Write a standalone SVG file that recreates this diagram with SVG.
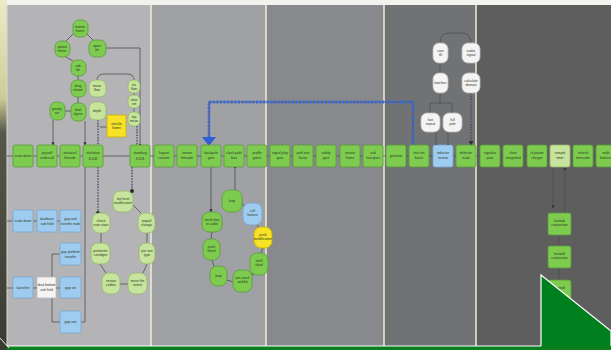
<svg xmlns="http://www.w3.org/2000/svg" width="611" height="350" viewBox="0 0 611 350">
<defs>
<linearGradient id="strip" x1="0" y1="0" x2="0" y2="1">
<stop offset="0" stop-color="#ecebc8"/><stop offset="0.28" stop-color="#cfcb98"/><stop offset="0.38" stop-color="#55574a"/><stop offset="1" stop-color="#3a3c32"/>
</linearGradient>
<marker id="ar" viewBox="0 0 6 6" refX="5" refY="3" markerWidth="4" markerHeight="4" orient="auto"><path d="M0,0 L6,3 L0,6 z" fill="#333"/></marker>
<marker id="dot" viewBox="0 0 6 6" refX="3" refY="3" markerWidth="3" markerHeight="3"><circle cx="3" cy="3" r="3" fill="#2a2a2a"/></marker>
<style>
.g rect{fill:#7dcb4f;stroke:#5c9a3a;stroke-width:0.8}
.lg rect{fill:#c6e49c;stroke:#98b46c;stroke-width:0.8}
.bl rect{fill:#9ecbf0;stroke:#7aa6cc;stroke-width:0.8}
.wh rect{fill:#f4f4f4;stroke:#bdbdbd;stroke-width:0.8}
.ye rect{fill:#f6e226;stroke:#c9b100;stroke-width:0.8}
text{font-family:"Liberation Sans",Arial,sans-serif;font-size:3.4px;fill:#2c3a22;text-anchor:middle}
.c path{fill:none;stroke:#4e4e4e;stroke-width:0.8}
.c path.d{stroke:#3e4c66;stroke-width:1.3;stroke-dasharray:1.6 1.2}
.c path.bu{stroke:#6a3e5c;stroke-width:1.2}
.c path.bd{stroke:#2f6fe0;stroke-width:2.8;stroke-dasharray:2 1.6}
.sep{stroke:#efeed2;stroke-width:1.5}
</style>
</defs>
<rect width="611" height="350" fill="#f2f2ee"/>
<rect x="0" y="0" width="7" height="350" fill="url(#strip)"/>
<rect x="7" y="5" width="144" height="341" fill="#b4b4b7"/>
<rect x="151" y="5" width="115" height="341" fill="#a0a1a4"/>
<rect x="266" y="5" width="118" height="341" fill="#88898c"/>
<rect x="384" y="5" width="92" height="341" fill="#717274"/>
<rect x="476" y="5" width="135" height="341" fill="#5e5e5f"/>
<path class="sep" d="M151,5V346M266,5V346M384,5V346M476,5V346"/>
<path d="M7,5V346" stroke="#d8d8d0" stroke-width="1"/>

<g id="connectors" class="c">
<path d="M7,156H611"/>
<path d="M74,33L66,41M86,33L93,40M66,57L73,61M78,76V80M78,97V103M65,111H71"/>
<path d="M97,80Q97,74 104,74H127Q134,74 134,80"/>
<path d="M134,93V95M134,108V112M107,127H100"/>
<path d="M106,48H140V145" marker-end="url(#dot)"/>
<path d="M53,120V145" marker-end="url(#ar)"/>
<path d="M85,121V145" marker-end="url(#ar)"/>
<path class="d" d="M98,120V145"/>
<path class="d" d="M137,126V145"/>
<path class="d" d="M98,167V213" marker-end="url(#dot)"/>
<path class="d" d="M132,167V191" marker-end="url(#dot)"/>
<path d="M7,221H81"/>
<path d="M7,288H13M33,288H37M56,288H60M52,254V322M52,254H60M52,322H60"/>
<path d="M85,167V322H81"/>
<path d="M133,205L141,213M101,233V243M147,233V243M100,264L106,273M147,264L143,273M120,284H128"/>
<path d="M211,167V212" marker-end="url(#ar)"/>
<path d="M235,190V167" marker-end="url(#dot)"/>
<path d="M242,203L245,207M257,225L259,228M263,248L261,253M254,275L249,273M233,282L227,280M214,266L212,260M211,239L212,232"/>
<path d="M440,43Q440,33 449,33H462Q471,33 471,43"/>
<path d="M440,63V73M440,93V103M430,103H452M430,103V113M452,103V113"/>
<path d="M436,132V145" marker-end="url(#dot)"/>
<path d="M448,132V145" marker-end="url(#dot)"/>
<path class="d" d="M471,93V145" marker-end="url(#ar)"/>
<path d="M553,167V208" marker-end="url(#ar)"/>
<path d="M565,212V167" marker-end="url(#ar)"/>
<path d="M559,235V246M559,268V280"/>
<path class="bu" d="M413,145V102H209V139"/>
<path class="bd" d="M413,145V102H209V139"/>
<polygon points="202,137 216,137 209,146" fill="#2f5fd0" stroke="none"/>
</g>

<g id="n_scale" class="g"><rect x="13" y="145" width="20" height="22" rx="2"/><text x="23" y="157">scale down</text></g>
<g id="n_paysell" class="g"><rect x="37" y="145" width="20" height="22" rx="2"/><text x="47" y="154">paysell</text><text x="47" y="159">undercall</text></g>
<g id="n_attr" class="g"><rect x="60" y="145" width="20" height="22" rx="2"/><text x="70" y="154">attraacel</text><text x="70" y="159">forcode</text></g>
<g id="n_duck" class="g"><rect x="83" y="145" width="20" height="22" rx="2"/><text x="93" y="154">duckduo</text><text x="93" y="160">6.208</text></g>
<g id="n_stand" class="g"><rect x="130" y="145" width="20" height="22" rx="2"/><text x="140" y="154">standurg</text><text x="140" y="160">8.003</text></g>
<g id="n_m6" class="g"><rect x="154" y="145" width="20" height="22" rx="2"/><text x="164" y="154">hayset</text><text x="164" y="159">counter</text></g>
<g id="n_m7" class="g"><rect x="177" y="145" width="20" height="22" rx="2"/><text x="187" y="154">sensor</text><text x="187" y="159">hmcode</text></g>
<g id="n_m8" class="g"><rect x="201" y="145" width="20" height="22" rx="2"/><text x="211" y="154">backpole</text><text x="211" y="159">gate</text></g>
<g id="n_m9" class="g"><rect x="224" y="145" width="20" height="22" rx="2"/><text x="234" y="154">clock path</text><text x="234" y="159">bias</text></g>
<g id="n_m10" class="g"><rect x="247" y="145" width="20" height="22" rx="2"/><text x="257" y="154">profile</text><text x="257" y="159">gates</text></g>
<g id="n_m11" class="g"><rect x="270" y="145" width="20" height="22" rx="2"/><text x="280" y="154">signal play</text><text x="280" y="159">gate</text></g>
<g id="n_m12" class="g"><rect x="293" y="145" width="20" height="22" rx="2"/><text x="303" y="154">path test</text><text x="303" y="159">factor</text></g>
<g id="n_m13" class="g"><rect x="316" y="145" width="20" height="22" rx="2"/><text x="326" y="154">safety</text><text x="326" y="159">gate</text></g>
<g id="n_m14" class="g"><rect x="340" y="145" width="20" height="22" rx="2"/><text x="350" y="154">sensor</text><text x="350" y="159">frame</text></g>
<g id="n_m15" class="g"><rect x="363" y="145" width="20" height="22" rx="2"/><text x="373" y="154">sud</text><text x="373" y="159">transport</text></g>
<g id="n_m16" class="g"><rect x="386" y="145" width="20" height="22" rx="2"/><text x="396" y="157">genotisk</text></g>
<g id="n_m17" class="g"><rect x="409" y="145" width="20" height="22" rx="2"/><text x="419" y="154">test net</text><text x="419" y="159">batch</text></g>
<g id="n_m18" class="bl"><rect x="433" y="145" width="20" height="22" rx="2"/><text x="443" y="154">inductor</text><text x="443" y="159">sensor</text></g>
<g id="n_m19" class="g"><rect x="456" y="145" width="20" height="22" rx="2"/><text x="466" y="154">detector</text><text x="466" y="159">scale</text></g>
<g id="n_m20" class="g"><rect x="480" y="145" width="20" height="22" rx="2"/><text x="490" y="154">signalus</text><text x="490" y="159">pass</text></g>
<g id="n_m21" class="g"><rect x="503" y="145" width="20" height="22" rx="2"/><text x="513" y="154">chart</text><text x="513" y="159">integrated</text></g>
<g id="n_m22" class="g"><rect x="527" y="145" width="20" height="22" rx="2"/><text x="537" y="154">ul patum</text><text x="537" y="159">charger</text></g>
<g id="n_m23" class="lg"><rect x="550" y="145" width="20" height="22" rx="2"/><text x="560" y="154">sample</text><text x="560" y="159">timer</text></g>
<g id="n_m24" class="g"><rect x="573" y="145" width="20" height="22" rx="2"/><text x="583" y="154">refresh</text><text x="583" y="159">timecode</text></g>
<g id="n_m25" class="g"><rect x="596" y="145" width="20" height="22" rx="2"/><text x="606" y="154">multi</text><text x="606" y="159">balance</text></g>

<g id="t_top" class="g"><rect x="73" y="20" width="15" height="17" rx="6"/><text x="80" y="28">motion</text><text x="80" y="32">frame</text></g>
<g id="t_left" class="g"><rect x="55" y="41" width="15" height="16" rx="6"/><text x="62" y="48">speed</text><text x="62" y="52">limiter</text></g>
<g id="t_right" class="g"><rect x="89" y="40" width="17" height="17" rx="6"/><text x="97" y="47">open</text><text x="97" y="51">bit</text></g>
<g id="t_bot" class="g"><rect x="71" y="60" width="15" height="16" rx="6"/><text x="78" y="67">sub</text><text x="78" y="71">bit</text></g>
<g id="t_b2" class="g"><rect x="71" y="80" width="15" height="17" rx="6"/><text x="78" y="87">drag</text><text x="78" y="91">slower</text></g>
<g id="t_b3" class="g"><rect x="71" y="103" width="15" height="18" rx="6"/><text x="78" y="111">dual</text><text x="78" y="115">layers</text></g>
<g id="t_grav" class="g"><rect x="50" y="102" width="15" height="18" rx="6"/><text x="57" y="110">gravity</text><text x="57" y="114">set</text></g>
<g id="t_lg1" class="lg"><rect x="89" y="80" width="17" height="17" rx="6"/><text x="97" y="87">mean</text><text x="97" y="91">flow</text></g>
<g id="t_lg2" class="lg"><rect x="89" y="102" width="17" height="18" rx="6"/><text x="97" y="112">depth</text></g>
<g id="t_s1" class="lg"><rect x="128" y="80" width="12" height="13" rx="5"/><text x="134" y="86">no</text><text x="134" y="90">flow</text></g>
<g id="t_s2" class="lg"><rect x="128" y="95" width="12" height="13" rx="5"/><text x="134" y="101">slow</text><text x="134" y="105">set</text></g>
<g id="t_s3" class="lg"><rect x="128" y="112" width="12" height="14" rx="5"/><text x="134" y="118">top</text><text x="134" y="122">mean</text></g>
<g id="t_yel" class="ye"><rect x="107" y="115" width="19" height="22" rx="1"/><text x="116.5" y="125">stackle</text><text x="116.5" y="129">frame</text></g>

<g id="b_1" class="bl"><rect x="13" y="210" width="20" height="22" rx="1"/><text x="23" y="222">scale down</text></g>
<g id="b_2" class="bl"><rect x="37" y="210" width="20" height="22" rx="1"/><text x="47" y="220">dualbase</text><text x="47" y="225">sub field</text></g>
<g id="b_3" class="bl"><rect x="60" y="210" width="21" height="22" rx="1"/><text x="70.5" y="220">gap and</text><text x="70.5" y="225">transfer node</text></g>
<g id="b_4" class="bl"><rect x="13" y="277" width="20" height="21" rx="1"/><text x="23" y="289">launcher</text></g>
<g id="b_5" class="wh"><rect x="37" y="277" width="19" height="21" rx="1"/><text x="46.5" y="286">dual bottom</text><text x="46.5" y="291">sub field</text></g>
<g id="b_6" class="bl"><rect x="60" y="243" width="21" height="22" rx="1"/><text x="70.5" y="253">gap platform</text><text x="70.5" y="258">transfer</text></g>
<g id="b_7" class="bl"><rect x="60" y="277" width="21" height="21" rx="1"/><text x="70.5" y="289">gap set</text></g>
<g id="b_8" class="bl"><rect x="60" y="311" width="21" height="22" rx="1"/><text x="70.5" y="323">gap unit</text></g>

<g id="r_1" class="lg"><rect x="113" y="191" width="20" height="21" rx="7"/><text x="123" y="200">top level</text><text x="123" y="204">modification</text></g>
<g id="r_2" class="lg"><rect x="92" y="213" width="18" height="20" rx="7"/><text x="101" y="222">check</text><text x="101" y="226">over state</text></g>
<g id="r_3" class="lg"><rect x="138" y="213" width="17" height="20" rx="7"/><text x="146.5" y="222">sequel</text><text x="146.5" y="226">change</text></g>
<g id="r_4" class="lg"><rect x="91" y="243" width="19" height="21" rx="7"/><text x="100.5" y="252">perimeter</text><text x="100.5" y="256">catridges</text></g>
<g id="r_5" class="lg"><rect x="139" y="243" width="16" height="21" rx="7"/><text x="147" y="252">per row</text><text x="147" y="256">type</text></g>
<g id="r_6" class="lg"><rect x="102" y="273" width="18" height="21" rx="7"/><text x="111" y="282">sensor</text><text x="111" y="286">cables</text></g>
<g id="r_7" class="lg"><rect x="128" y="273" width="19" height="21" rx="7"/><text x="137.5" y="282">move the</text><text x="137.5" y="286">switch</text></g>

<g id="m_1" class="g"><rect x="222" y="190" width="20" height="22" rx="7"/><text x="232" y="202">loop</text></g>
<g id="m_2" class="bl"><rect x="243" y="203" width="19" height="22" rx="7"/><text x="252.5" y="212">cell</text><text x="252.5" y="216">feature</text></g>
<g id="m_3" class="ye"><rect x="254" y="227" width="18" height="21" rx="7"/><text x="263" y="236">push</text><text x="263" y="240">modification</text></g>
<g id="m_4" class="g"><rect x="250" y="253" width="18" height="22" rx="7"/><text x="259" y="262">shell</text><text x="259" y="266">shed</text></g>
<g id="m_5" class="g"><rect x="233" y="270" width="19" height="22" rx="7"/><text x="242.5" y="279">join stack</text><text x="242.5" y="283">and bit</text></g>
<g id="m_6" class="g"><rect x="210" y="266" width="17" height="20" rx="7"/><text x="218.5" y="277">loop</text></g>
<g id="m_7" class="g"><rect x="203" y="239" width="17" height="21" rx="7"/><text x="211.5" y="248">push</text><text x="211.5" y="252">sheet</text></g>
<g id="m_8" class="g"><rect x="202" y="212" width="20" height="20" rx="7"/><text x="212" y="221">mesh feat</text><text x="212" y="225">in cable</text></g>

<g id="w_1" class="wh"><rect x="433" y="43" width="15" height="20" rx="6"/><text x="440.5" y="52">core</text><text x="440.5" y="56">fill</text></g>
<g id="w_2" class="wh"><rect x="462" y="43" width="18" height="20" rx="6"/><text x="471" y="52">audio</text><text x="471" y="56">signal</text></g>
<g id="w_3" class="wh"><rect x="433" y="73" width="15" height="20" rx="6"/><text x="440.5" y="84">batches</text></g>
<g id="w_4" class="wh"><rect x="462" y="73" width="18" height="20" rx="6"/><text x="471" y="82">calculate</text><text x="471" y="86">domain</text></g>
<g id="w_5" class="wh"><rect x="421" y="113" width="19" height="19" rx="6"/><text x="430.5" y="121">fast</text><text x="430.5" y="125">repeat</text></g>
<g id="w_6" class="wh"><rect x="443" y="113" width="19" height="19" rx="6"/><text x="452.5" y="121">full</text><text x="452.5" y="125">pole</text></g>

<g id="k_1" class="g"><rect x="548" y="213" width="23" height="22" rx="2"/><text x="559.5" y="222">kustodi</text><text x="559.5" y="226">conversion</text></g>
<g id="k_2" class="g"><rect x="548" y="246" width="23" height="22" rx="2"/><text x="559.5" y="255">kustodi</text><text x="559.5" y="259">conversion</text></g>
<g id="k_3" class="g"><rect x="548" y="280" width="23" height="22" rx="2"/><text x="559.5" y="289">kustodi</text></g>

<polygon points="541,275 611,331 611,350 541,350" fill="#007f1e" stroke="#ffffff" stroke-width="1.2"/>
<rect x="7" y="346" width="604" height="4" fill="#0b7f20"/>
<path d="M7,346H541" stroke="#ffffff" stroke-width="1"/>
<path d="M0,338L9,348" stroke="#e8e8e0" stroke-width="1"/>
</svg>
